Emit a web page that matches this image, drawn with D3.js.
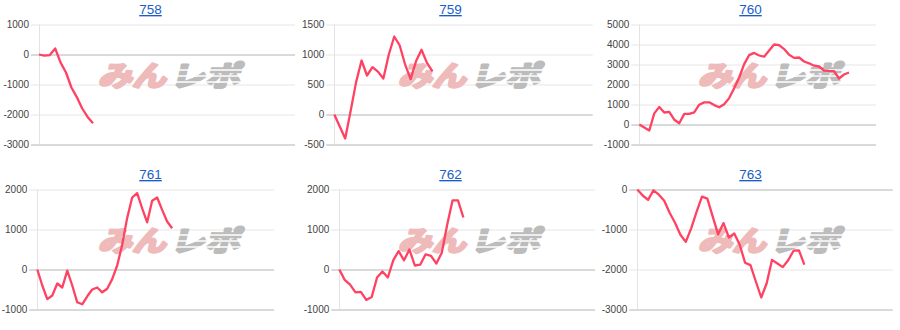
<!DOCTYPE html>
<html>
<head>
<meta charset="utf-8">
<script src="https://cdn.jsdelivr.net/npm/d3@7"></script>
<style>
  body { margin: 0; background: #fff; }
  svg { display: block; font-family: Arial, "Liberation Sans", sans-serif; }
</style>
</head>
<body>
<svg id="chart" width="900" height="330"></svg>
<script>
  // x axis spans the same number of steps in every panel
  const X_MAX = 47.4;

  const titles = ['758', '759', '760', '761', '762', '763'];

  const values758 = [0, -40, -20, 200, -270, -600, -1100, -1420, -1800, -2080, -2290];
  const values759 = [0, -200, -400, 60, 540, 900, 650, 790, 715, 600, 1000, 1300, 1150, 830, 590, 890, 1080, 860, 720];
  const values760 = [0, -150, -300, 555, 880, 600, 630, 240, 60, 530, 530, 610, 990, 1105, 1110, 970, 860, 1010,
    1320, 1810, 2350, 3020, 3470, 3580, 3450, 3390, 3700, 4000, 3970, 3770, 3490, 3330, 3350, 3150, 3060, 2940,
    2900, 2700, 2680, 2670, 2300, 2500, 2600];
  const values761 = [0, -400, -740, -650, -350, -450, -30, -400, -820, -870, -670, -500, -450, -570, -480, -240,
    100, 620, 1290, 1800, 1910, 1530, 1180, 1720, 1800, 1490, 1200, 1030];
  const values762 = [0, -260, -380, -570, -560, -760, -690, -200, -50, -200, 230, 460, 230, 500, 100, 120, 380,
    340, 150, 420, 1120, 1730, 1730, 1300];
  const values763 = [0, -150, -260, -20, -130, -280, -580, -830, -1130, -1310, -970, -560, -180, -230, -680, -1120,
    -840, -1200, -1100, -1380, -1830, -1890, -2300, -2700, -2350, -1760, -1850, -1940, -1770, -1530, -1520, -1880];

  const ticks758 = [-3000, -2000, -1000, 0, 1000];
  const ticks759 = [-500, 0, 500, 1000, 1500];
  const ticks760 = [-1000, 0, 1000, 2000, 3000, 4000, 5000];
  const ticks761 = [-1000, 0, 1000, 2000];
  const ticks762 = [-1000, 0, 1000, 2000];
  const ticks763 = [-3000, -2000, -1000, 0];

  const series = [values758, values759, values760, values761, values762, values763];
  const tickSets = [ticks758, ticks759, ticks760, ticks761, ticks762, ticks763];

  // chart area inside each 300x165 panel
  const areas = [
    { left: 39, right: 295 },
    { left: 34.3, right: 292.7 },
    { left: 39.3, right: 276 },
    { left: 37.3, right: 274 },
    { left: 39.3, right: 295 },
    { left: 37.3, right: 292.7 }
  ];

  const LINE_COLOR = '#ff4262';
  const svg = d3.select('#chart');

  function logoText(parent, x, len, color, txt) {
    parent.append('text')
      .attr('x', x)
      .attr('font-family', '"Noto Sans CJK JP", sans-serif')
      .attr('font-weight', 'bold')
      .attr('font-size', 28)
      .attr('fill', color)
      .attr('stroke', color)
      .attr('stroke-width', 2.6)
      .attr('stroke-linejoin', 'round')
      .attr('textLength', len)
      .attr('lengthAdjust', 'spacingAndGlyphs')
      .text(txt);
  }

  function drawLogo(g) {
    const logo = g.append('g').attr('transform', 'translate(92,86) skewX(-14)');
    logoText(logo, 6, 68, '#eebaba', 'みん');
    logoText(logo, 78, 70, '#bcbcbc', 'レポ');
    // speed stripes across the grey part
    [-16, -10, -4].forEach(dy => {
      logo.append('line')
        .attr('x1', 80).attr('x2', 154)
        .attr('y1', dy).attr('y2', dy)
        .attr('stroke', '#fff').attr('stroke-width', 1.3);
    });
  }

  series.forEach((vals, i) => {
    const px = (i % 3) * 300;
    const py = Math.floor(i / 3) * 165;
    const a = areas[i];
    const ticks = tickSets[i];
    const g = svg.append('g').attr('transform', `translate(${px},${py})`);

    g.append('text')
      .attr('x', 150.5)
      .attr('y', 14)
      .attr('text-anchor', 'middle')
      .attr('font-size', 13.5)
      .attr('fill', '#1a5dc8')
      .style('text-decoration', 'underline')
      .text(titles[i]);

    const x = d3.scaleLinear().domain([0, X_MAX]).range([a.left, a.right]);
    const y = d3.scaleLinear().domain(d3.extent(ticks)).range([144.5, 24.5]);
    const lo = d3.min(ticks);

    const axis = d3.axisLeft(y)
      .tickValues(ticks)
      .tickSize(-(a.right - a.left + 8))
      .tickPadding(2)
      .tickFormat(d => String(d));

    const ga = g.append('g')
      .attr('transform', `translate(${a.left - 8},0)`)
      .call(axis)
      .attr('font-family', 'Arial, "Liberation Sans", sans-serif');
    ga.select('.domain').remove();
    ga.selectAll('.tick line')
      .attr('stroke', d => (d === 0 || d === lo) ? '#b4b4b4' : '#e6e6e6');
    ga.selectAll('.tick text').attr('fill', '#444').attr('font-size', 10);

    // vertical line at the first data point
    const vx = Math.round(x(0)) + 0.5;
    g.append('line')
      .attr('x1', vx).attr('x2', vx)
      .attr('y1', y.range()[1]).attr('y2', y.range()[0])
      .attr('stroke', '#e3e3e3');

    drawLogo(g);

    const line = d3.line()
      .x((d, j) => x(j))
      .y(d => y(d));

    g.append('path')
      .datum(vals)
      .attr('d', line)
      .attr('fill', 'none')
      .attr('stroke', LINE_COLOR)
      .attr('stroke-width', 2.3)
      .attr('stroke-linejoin', 'round');
  });
</script>
</body>
</html>
